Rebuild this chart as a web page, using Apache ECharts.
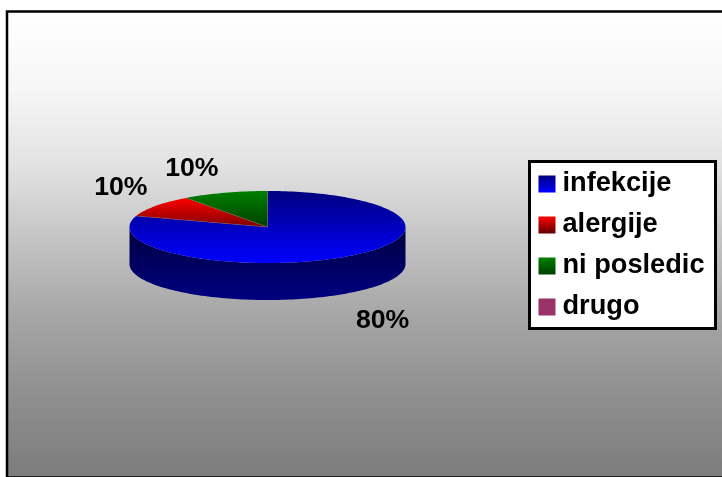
<!DOCTYPE html>
<html><head><meta charset="utf-8">
<style>html,body{margin:0;padding:0;background:#fff}#c{width:722px;height:477px}</style>
<script src="https://cdn.jsdelivr.net/npm/echarts@6/dist/echarts.min.js"></script>
</head><body><div id="c"></div>
<script>
const categories = ['infekcije', 'alergije', 'ni posledic', 'drugo'];
const values = [80, 10, 10, 0];

const FONT = '"Liberation Sans", Arial, sans-serif';
const FS = 26.67;
const LEGEND_FS = 27.2;
const PIE = { cx: 267.5, cy: 227, rx: 138, ry: 36, depth: 37 };
const labelOffset = [[34, 28], [-35, -18], [-33, -24], [0, 0]];
const grad = (a, b) => ({ type: 'linear', x: 0, y: 0, x2: 0, y2: 1, colorStops: [{ offset: 0, color: a }, { offset: 1, color: b }] });
const topFill = [grad('#000080', '#0000ff'), grad('#ff0000', '#800000'), grad('#008000', '#004000'), '#993366'];
const sideFill = [grad('#000040', '#000080'), grad('#800000', '#400000'), grad('#004000', '#002000'), '#4d1a33'];
const legendFill = [grad('#000080', '#0000ff'), grad('#ff0000', '#600000'), grad('#008000', '#004000'), '#993366'];
const plotFill = { type: 'linear', x: 0, y: 0, x2: 0, y2: 1, colorStops: [
  { offset: 0, color: '#ffffff' }, { offset: 0.17, color: '#f6f6f6' }, { offset: 0.33, color: '#e2e2e2' },
  { offset: 0.49, color: '#c4c4c4' }, { offset: 0.65, color: '#a6a6a6' }, { offset: 0.83, color: '#8e8e8e' },
  { offset: 1, color: '#7c7c7c' } ] };

const total = values.reduce((a, b) => a + b, 0);
const pt = (deg, dy) => {
  const r = deg * Math.PI / 180;
  return [PIE.cx + PIE.rx * Math.sin(r), PIE.cy - PIE.ry * Math.cos(r) + (dy || 0)];
};
const arc = (a, b, dy) => {
  const n = Math.max(2, Math.ceil((b - a) / 1.5)), out = [];
  for (let i = 0; i <= n; i++) out.push(pt(a + (b - a) * i / n, dy));
  return out;
};

function renderSlice(idx) {
  return function (params, api) {
    const v = api.value(0);
    if (!(v > 0)) return { type: 'group', children: [] };
    const before = values.slice(0, idx).reduce((a, b) => a + b, 0);
    const a0 = before / total * 360, a1 = (before + v) / total * 360;
    const children = [];
    const s0 = Math.max(a0, 90), s1 = Math.min(a1, 270);
    if (s1 > s0) {
      children.push({ type: 'polygon', shape: { points: arc(s0, s1, 0).concat(arc(s0, s1, PIE.depth).reverse()) },
        style: { fill: sideFill[idx] } });
    }
    children.push({ type: 'polygon', shape: { points: [[PIE.cx, PIE.cy]].concat(arc(a0, a1, 0)) },
      style: { fill: topFill[idx] } });
    children.push({ type: 'polyline', shape: { points: [pt(a0), [PIE.cx, PIE.cy], pt(a1)] },
      style: { fill: null, stroke: 'rgba(128,128,128,0.45)', lineWidth: 0.6 } });
    const m = (a0 + a1) / 2;
    const mid = pt(m, m > 90 && m < 270 ? PIE.depth : 0);
    children.push({ type: 'text', z2: 10, style: {
      x: mid[0] + labelOffset[idx][0], y: mid[1] + labelOffset[idx][1],
      text: Math.round(v / total * 100) + '%', fill: '#000', align: 'center', verticalAlign: 'middle',
      font: 'bold ' + FS + 'px ' + FONT } });
    return { type: 'group', children };
  };
}

const chart = echarts.init(document.getElementById('c'), null, { renderer: 'canvas' });
chart.setOption({
  animation: false,
  backgroundColor: '#fff',
  graphic: [{ type: 'rect', z: -10, silent: true,
    shape: { x: 7, y: 11.5, width: 760, height: 466 },
    style: { fill: plotFill, stroke: '#000', lineWidth: 2.5 } }],
  legend: {
    orient: 'vertical', left: 529.5, top: 161.5, selectedMode: false,
    backgroundColor: '#fff', borderColor: '#000', borderWidth: 3, borderRadius: 0,
    padding: [9, 11, 8, 9], itemGap: 14, itemWidth: 17, itemHeight: 17, icon: 'rect',
    textStyle: { fontFamily: FONT, fontWeight: 'bold', fontSize: LEGEND_FS, color: '#000', padding: [1, 0, 0, 2] },
    data: categories.map((n, i) => ({ name: n, icon: 'rect', itemStyle: { color: legendFill[i], borderWidth: 0 } }))
  },
  series: categories.map((n, i) => ({
    type: 'custom', name: n, coordinateSystem: 'none', silent: true,
    renderItem: renderSlice(i), data: [[values[i]]],
    itemStyle: { color: legendFill[i] }
  }))
});
</script></body></html>
